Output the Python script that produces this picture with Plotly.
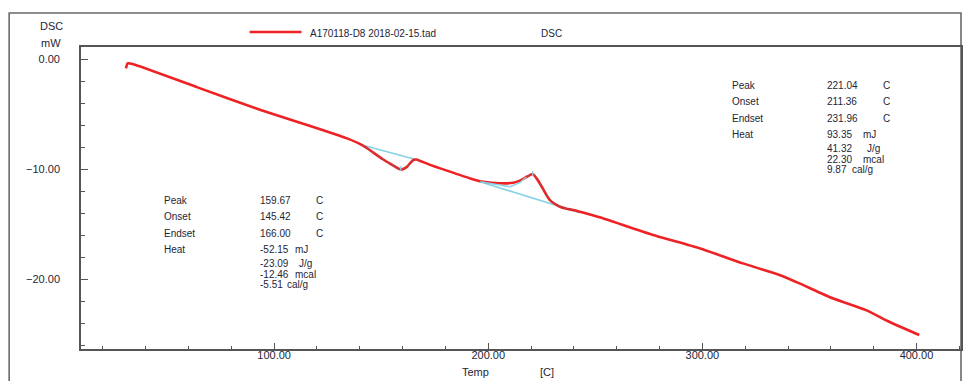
import plotly.graph_objects as go

# ---------------- data ----------------
series_name = "A170118-D8 2018-02-15.tad"
series_kind = "DSC"

temp = [30.8, 31.6, 33.9, 64.2, 93.7, 120.1, 131.0, 134.1, 141.1, 144.0, 147.3, 150.6,
        154.3, 157.1, 159.2, 160.8, 162.2, 163.6, 165.0, 166.4, 168.3, 172.9, 177.6,
        191.6, 197.8, 205.6, 211.7, 214.8, 218.0, 220.8, 222.6, 225.0, 227.0, 228.8,
        231.2, 233.5, 236.6, 239.7, 246.7, 252.1, 277.0, 298.7, 318.9, 336.0, 345.3,
        360.9, 376.4, 387.3, 401.3]
dsc = [-0.80, -0.35, -0.41, -2.53, -4.59, -6.26, -6.96, -7.17, -7.78, -8.14, -8.60, -9.05,
       -9.50, -9.82, -10.01, -9.91, -9.73, -9.41, -9.14, -9.10, -9.23, -9.58, -9.90,
       -10.81, -11.12, -11.26, -11.21, -11.02, -10.66, -10.41, -10.81, -11.57, -12.26, -12.78,
       -13.14, -13.39, -13.57, -13.69, -14.05, -14.35, -15.96, -17.17, -18.54, -19.60, -20.36,
       -21.72, -22.79, -23.85, -25.06]

# integration overlay (peak regions)
peak1_t = [141.1, 144.0, 147.3, 150.6, 154.3, 157.1, 159.2, 160.8, 162.2, 163.6, 165.0, 166.4, 168.3]
peak1_y = [-7.78, -8.14, -8.60, -9.05, -9.50, -9.82, -10.01, -9.91, -9.73, -9.41, -9.14, -9.10, -9.23]
peak2_t = [218.0, 220.8, 222.6, 225.0, 227.0, 228.8, 231.2, 233.5, 236.6, 239.7]
peak2_y = [-10.66, -10.41, -10.81, -11.57, -12.26, -12.78, -13.14, -13.39, -13.57, -13.69]

base1_t = [141.1, 168.3]
base1_y = [-7.78, -9.21]
base2_t = [196.2, 242.8]
base2_y = [-11.12, -13.93]
tang2_t = [196.2, 210.2, 214.8, 217.7]
tang2_y = [-11.12, -11.57, -11.21, -10.69]
mark1_t = [159.2, 159.2]
mark1_y = [-9.69, -10.11]
mark2_t = [220.8, 220.8]
mark2_y = [-10.14, -10.55]

row_names = ["Peak", "Onset", "Endset", "Heat", "", "", ""]
units = ["C", "C", "C", "mJ", "J/g", "mcal", "cal/g"]
vals_left = ["159.67", "145.42", "166.00", "-52.15", "-23.09", "-12.46", "-5.51"]
vals_right = ["221.04", "211.36", "231.96", "93.35", "41.32", "22.30", "9.87"]

x_ticks = [100, 200, 300, 400]
y_ticks = [0, -10, -20]

# ---------------- layout helpers ----------------
W, H = 965, 381
L, R, T, B = 81, 963, 47, 349


def px(x):
    return (x - L) / (R - L)


def py(y):
    return (B - y) / (B - T)


FONT = "Liberation Sans, Arial, sans-serif"
TXT = "#1e2636"
RED = "#ee2224"
CYAN = "#86d2e6"

fig = go.Figure()
fig.add_trace(go.Scatter(x=base1_t, y=base1_y, mode="lines",
                         line=dict(color=CYAN, width=1.6), showlegend=False))
fig.add_trace(go.Scatter(x=base2_t, y=base2_y, mode="lines",
                         line=dict(color=CYAN, width=1.6), showlegend=False))
fig.add_trace(go.Scatter(x=temp, y=dsc, mode="lines", name=series_name,
                         line=dict(color=RED, width=2.6, shape="spline", smoothing=0.5),
                         showlegend=False))
fig.add_trace(go.Scatter(x=peak1_t, y=peak1_y, mode="lines",
                         line=dict(color="rgba(95,115,115,0.55)", width=1.2, dash="dot",
                                   shape="spline", smoothing=0.5), showlegend=False))
fig.add_trace(go.Scatter(x=peak2_t, y=peak2_y, mode="lines",
                         line=dict(color="rgba(95,115,115,0.55)", width=1.2, dash="dot",
                                   shape="spline", smoothing=0.5), showlegend=False))
fig.add_trace(go.Scatter(x=tang2_t, y=tang2_y, mode="lines",
                         line=dict(color=CYAN, width=1.4), showlegend=False))
fig.add_trace(go.Scatter(x=mark1_t, y=mark1_y, mode="lines",
                         line=dict(color=CYAN, width=1.4), showlegend=False))
fig.add_trace(go.Scatter(x=mark2_t, y=mark2_y, mode="lines",
                         line=dict(color=CYAN, width=1.4), showlegend=False))

annotations = []
shapes = []

# outer frame
shapes.append(dict(type="rect", xref="paper", yref="paper",
                   x0=px(9), x1=px(963), y0=py(395), y1=py(13),
                   line=dict(color="#6a6a6a", width=1.6), layer="below"))

# legend (manual)
shapes.append(dict(type="line", xref="paper", yref="paper",
                   x0=px(250), x1=px(302), y0=py(32), y1=py(32),
                   line=dict(color=RED, width=2.5)))
annotations.append(dict(x=px(309), y=py(33), xref="paper", yref="paper",
                        text=series_name, showarrow=False, xanchor="left",
                        yanchor="middle", font=dict(size=10, color=TXT, family=FONT)))
annotations.append(dict(x=px(553), y=py(33), xref="paper", yref="paper",
                        text=series_kind, showarrow=False, xanchor="center",
                        yanchor="middle", font=dict(size=10, color=TXT, family=FONT)))

# y axis title
annotations.append(dict(x=px(65), y=py(26), xref="paper", yref="paper",
                        text="DSC", showarrow=False, xanchor="right", yanchor="middle",
                        font=dict(size=11, color=TXT, family=FONT)))
annotations.append(dict(x=px(63), y=py(43), xref="paper", yref="paper",
                        text="mW", showarrow=False, xanchor="right", yanchor="middle",
                        font=dict(size=11, color=TXT, family=FONT)))
# x axis title
annotations.append(dict(x=px(476), y=py(372), xref="paper", yref="paper",
                        text="Temp", showarrow=False, xanchor="center", yanchor="middle",
                        font=dict(size=11, color=TXT, family=FONT)))
annotations.append(dict(x=px(548), y=py(372), xref="paper", yref="paper",
                        text="[C]", showarrow=False, xanchor="center", yanchor="middle",
                        font=dict(size=11, color=TXT, family=FONT)))

# result blocks
rows_right = [85, 101.7, 118, 134.7, 148.3, 159.3, 169.3]
unit_x_right = [883.3, 883.3, 883.3, 862.7, 866.7, 862.7, 851.7]
unit_x_left = [314.3, 314.3, 314.3, 293.7, 297.7, 293.7, 285.5]


def block(label_x, val_x, unit_xs, rows, vals):
    for i in range(7):
        f = dict(size=10, color=TXT, family=FONT)
        if row_names[i]:
            annotations.append(dict(x=px(label_x), y=py(rows[i]), xref="paper", yref="paper",
                                    text=row_names[i], showarrow=False, xanchor="left",
                                    yanchor="middle", font=f))
        annotations.append(dict(x=px(val_x), y=py(rows[i]), xref="paper", yref="paper",
                                text=vals[i], showarrow=False, xanchor="left",
                                yanchor="middle", font=f))
        annotations.append(dict(x=px(unit_xs[i]), y=py(rows[i]), xref="paper", yref="paper",
                                text=units[i], showarrow=False, xanchor="left",
                                yanchor="middle", font=f))


block(731.7, 826.7, unit_x_right, rows_right, vals_right)
block(161.7, 258.0, unit_x_left, [r + 115 for r in rows_right], vals_left)

axis_common = dict(showline=True, linecolor="#555555", linewidth=1.6, mirror=True,
                   showgrid=False, zeroline=False, ticks="inside", tickcolor="#555555",
                   tickformat=".2f", tickfont=dict(size=11, color=TXT, family=FONT))

fig.update_layout(
    width=W, height=H,
    margin=dict(l=L, r=W - R, t=T, b=H - B, pad=0),
    plot_bgcolor="white", paper_bgcolor="white",
    showlegend=False,
    xaxis=dict(range=[9.8, 420.8], tickvals=x_ticks, ticklen=6, tickwidth=1.2,
               ticklabelstandoff=-5,
               minor=dict(dtick=20, tick0=0, ticks="inside", ticklen=3, tickcolor="#555555"),
               **axis_common),
    yaxis=dict(range=[-26.33, 1.14], tickvals=y_ticks, ticklen=7, tickwidth=1.2,
               ticklabelstandoff=17,
               minor=dict(dtick=2, tick0=0, ticks="inside", ticklen=4, tickcolor="#555555"),
               **axis_common),
    annotations=annotations,
    shapes=shapes,
)

fig.write_html("out.html")
